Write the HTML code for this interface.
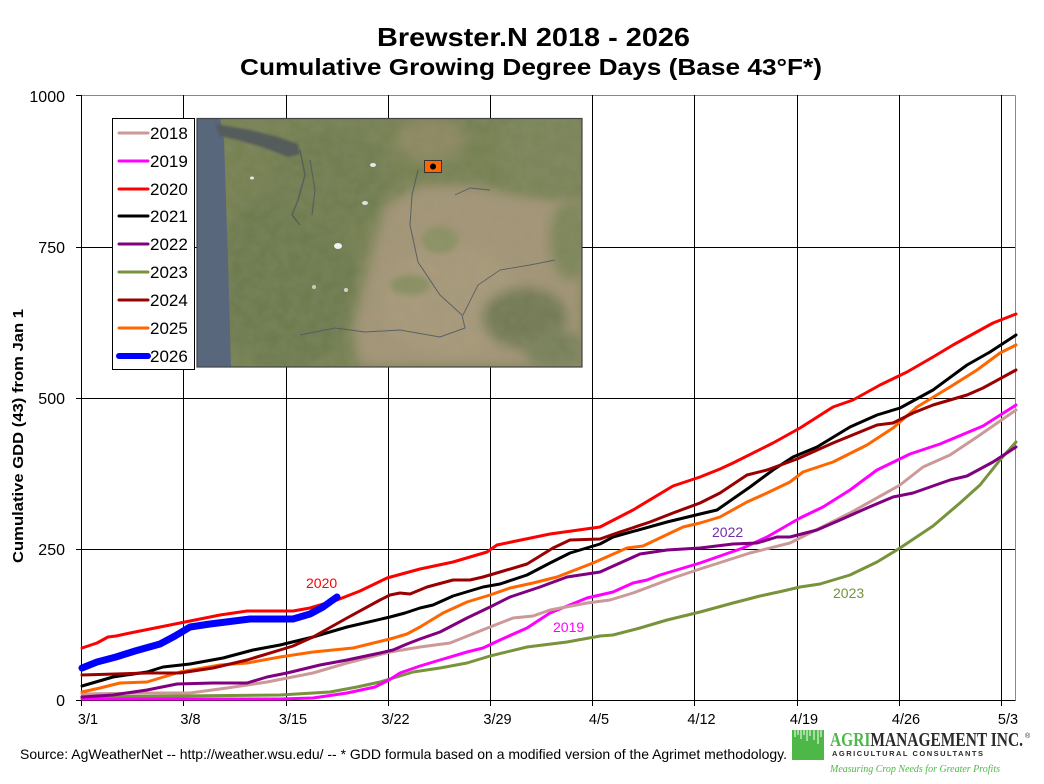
<!DOCTYPE html>
<html>
<head>
<meta charset="utf-8">
<style>
  html, body { margin:0; padding:0; background:#fff; }
  svg { display:block; }
</style>
</head>
<body>
<svg width="1044" height="784" viewBox="0 0 1044 784" xmlns="http://www.w3.org/2000/svg" font-family="Liberation Sans, Arial, sans-serif">
  <defs>
    <filter id="b6" x="-20%" y="-20%" width="140%" height="140%"><feGaussianBlur stdDeviation="6"/></filter>
    <filter id="b3" x="-20%" y="-20%" width="140%" height="140%"><feGaussianBlur stdDeviation="3"/></filter>
    <filter id="b1"><feGaussianBlur stdDeviation="1.2"/></filter>
    <filter id="noise" x="0" y="0" width="100%" height="100%">
      <feTurbulence type="fractalNoise" baseFrequency="0.09" numOctaves="2" seed="3" result="n"/>
      <feColorMatrix in="n" type="matrix" values="0 0 0 0 0.3  0 0 0 0 0.3  0 0 0 0 0.2  0 0 0 0.35 0"/>
    </filter>
    <clipPath id="mapclip"><rect x="197" y="118" width="385" height="249"/></clipPath>
  </defs>
  <rect width="1044" height="784" fill="#fff"/>

  <!-- Titles -->
  <text x="377" y="46" font-size="26" font-weight="bold" textLength="313" lengthAdjust="spacingAndGlyphs">Brewster.N  2018 - 2026</text>
  <text x="240" y="75" font-size="23" font-weight="bold" textLength="582" lengthAdjust="spacingAndGlyphs">Cumulative Growing Degree Days (Base 43°F*)</text>

  <!-- Plot borders (gray top/right) -->
  <line x1="81.5" y1="95.5" x2="1015.5" y2="95.5" stroke="#888" stroke-width="1"/>
  <line x1="1015.5" y1="95.5" x2="1015.5" y2="700.5" stroke="#888" stroke-width="1"/>

  <!-- Horizontal gridlines + ticks -->
  <g stroke="#000" stroke-width="1">
    <line x1="76" y1="95.5" x2="82" y2="95.5"/>
    <line x1="76" y1="247.5" x2="1015" y2="247.5"/>
    <line x1="76" y1="398.5" x2="1015" y2="398.5"/>
    <line x1="76" y1="549.5" x2="1015" y2="549.5"/>
    <line x1="76" y1="700.5" x2="1015.5" y2="700.5"/>
  </g>
  <!-- Vertical gridlines + ticks -->
  <g stroke="#000" stroke-width="1">
    <line x1="81.5" y1="95" x2="81.5" y2="706"/>
    <line x1="183.5" y1="95" x2="183.5" y2="706"/>
    <line x1="286.5" y1="95" x2="286.5" y2="706"/>
    <line x1="388.5" y1="95" x2="388.5" y2="706"/>
    <line x1="490.5" y1="95" x2="490.5" y2="706"/>
    <line x1="592.5" y1="95" x2="592.5" y2="706"/>
    <line x1="694.5" y1="95" x2="694.5" y2="706"/>
    <line x1="797.5" y1="95" x2="797.5" y2="706"/>
    <line x1="899.5" y1="95" x2="899.5" y2="706"/>
    <line x1="1001.5" y1="95" x2="1001.5" y2="706"/>
  </g>

  <!-- Y tick labels -->
  <g font-size="16" text-anchor="end" fill="#000">
    <text x="65" y="102">1000</text>
    <text x="65" y="253">750</text>
    <text x="65" y="404">500</text>
    <text x="65" y="555">250</text>
    <text x="65" y="706">0</text>
  </g>
  <!-- X tick labels -->
  <g font-size="14.5" text-anchor="middle" fill="#000">
    <text x="88" y="724">3/1</text>
    <text x="190.5" y="724">3/8</text>
    <text x="293" y="724">3/15</text>
    <text x="395.5" y="724">3/22</text>
    <text x="497.5" y="724">3/29</text>
    <text x="599" y="724">4/5</text>
    <text x="701.5" y="724">4/12</text>
    <text x="804" y="724">4/19</text>
    <text x="906" y="724">4/26</text>
    <text x="1008" y="724">5/3</text>
  </g>

  <!-- Y axis title -->
  <text transform="translate(23,436) rotate(-90)" font-size="15" font-weight="bold" text-anchor="middle" textLength="254" lengthAdjust="spacingAndGlyphs">Cumulative GDD (43) from Jan 1</text>

  <!-- Series -->
  <g fill="none" stroke-width="3" stroke-linejoin="round" stroke-linecap="round">
    <!-- 2023 -->
    <polyline stroke="#77933c" points="82,697 280,695 330,692 357,687 380,682 400,676 413,672 440,668 467,663 490,656 527,647 567,642 600,636 613,635 640,628 667,620 700,612 733,603 760,596 783,591 800,587 820,584 850,575 877,562 900,548 933,526 960,503 980,485 1000,460 1016,442"/>
    <!-- 2019 -->
    <polyline stroke="#ff00ff" points="82,699 280,699 313,698 347,693 375,687 389,680 400,673 420,666 440,660 467,652 483,648 500,640 527,628 550,613 587,598 613,592 633,583 647,580 660,575 700,563 743,548 767,537 800,518 823,507 850,490 877,470 910,454 940,444 983,426 1016,405"/>
    <!-- 2018 -->
    <polyline stroke="#cc9999" points="82,694 147,693 190,693 227,688 267,682 313,673 347,663 390,652 420,647 450,643 490,627 513,618 533,616 550,610 587,603 610,600 633,593 673,578 700,569 750,553 790,543 810,533 850,513 900,485 923,467 950,455 977,437 1016,410"/>
    <!-- 2022 -->
    <polyline stroke="#800080" points="82,697 113,695 147,690 177,684 213,683 247,683 267,677 287,673 320,665 347,660 380,653 393,650 407,644 420,639 440,632 467,618 490,607 510,597 540,587 567,577 600,572 640,554 667,550 700,548 733,544 757,543 777,537 790,537 817,530 840,520 867,508 893,497 913,493 950,480 967,476 993,462 1016,447"/>
    <!-- 2025 -->
    <polyline stroke="#ff6600" points="82,692 100,688 120,683 147,682 180,672 220,665 247,663 280,657 313,652 353,648 390,639 407,634 420,627 443,613 467,602 490,595 510,588 533,583 557,577 593,563 627,548 643,546 683,527 700,523 720,517 747,502 767,493 790,482 803,472 833,462 867,445 893,428 917,407 950,387 977,370 1000,353 1016,345"/>
    <!-- 2021 -->
    <polyline stroke="#000000" points="82,686 113,677 147,672 163,667 190,664 223,658 253,650 280,645 313,637 347,627 390,617 405,613 420,608 433,605 453,596 483,587 500,584 527,575 550,563 570,553 600,544 613,537 667,522 700,514 717,510 750,487 773,470 793,457 817,447 850,427 877,415 900,408 933,390 967,365 990,352 1016,335"/>
    <!-- 2024 -->
    <polyline stroke="#990000" points="82,675 147,673 180,673 213,668 247,660 280,650 293,646 313,637 347,618 380,600 390,595 400,593 410,594 427,587 453,580 470,580 483,577 500,572 527,564 553,548 570,540 600,539 617,533 650,522 673,513 700,503 720,493 747,475 767,470 797,459 833,443 877,425 893,423 913,413 933,405 967,395 983,388 1016,370"/>
    <!-- 2020 -->
    <polyline stroke="#ff0000" points="82,648 97,643 108,637 116,636 130,633 160,627 180,623 200,619 220,615 247,611 293,611 310,608 337,600 360,591 387,578 420,569 453,562 487,552 497,545 550,534 600,527 633,510 673,486 700,477 720,469 733,463 773,443 800,428 833,407 853,400 880,385 907,372 933,357 953,345 993,323 1016,314"/>
    <!-- 2026 -->
    <polyline stroke="#0000ff" stroke-width="7" points="82,668 97,662 116,657 135,651 160,644 175,636 190,627 210,624 250,619 293,619 310,614 323,607 337,597"/>
  </g>

  <!-- Series labels -->
  <g font-size="14">
    <text x="306" y="588" fill="#ff0000">2020</text>
    <text x="553" y="632" fill="#ff00ff">2019</text>
    <text x="712" y="537" fill="#7030a0">2022</text>
    <text x="833" y="598" fill="#77933c">2023</text>
  </g>

  <!-- Map -->
  <g clip-path="url(#mapclip)">
    <rect x="197" y="118" width="385" height="249" fill="#74804f"/>
    <!-- west darker green -->
    <ellipse cx="285" cy="280" rx="70" ry="90" fill="#6b794b" filter="url(#b6)"/>
    <ellipse cx="330" cy="180" rx="60" ry="50" fill="#6e7b4d" filter="url(#b6)"/>
    <!-- tan basin -->
    <polygon points="385,205 420,185 470,185 520,195 582,200 582,367 360,367 352,330 362,290 372,250" fill="#a69678" filter="url(#b6)"/>
    <ellipse cx="450" cy="300" rx="70" ry="55" fill="#ab9b7c" filter="url(#b6)"/>
    <ellipse cx="430" cy="140" rx="35" ry="22" fill="#8d8961" filter="url(#b6)"/>
    <!-- irrigated greens in basin -->
    <ellipse cx="440" cy="240" rx="18" ry="14" fill="#8c9264" filter="url(#b3)"/>
    <ellipse cx="410" cy="285" rx="20" ry="10" fill="#899060" filter="url(#b3)"/>
    <!-- NE green -->
    <ellipse cx="548" cy="150" rx="50" ry="45" fill="#798457" filter="url(#b6)"/>
    <ellipse cx="570" cy="240" rx="20" ry="40" fill="#7b8557" filter="url(#b6)"/>
    <!-- SE mountains -->
    <ellipse cx="525" cy="318" rx="42" ry="30" fill="#6f7851" filter="url(#b6)"/>
    <ellipse cx="555" cy="350" rx="30" ry="20" fill="#767f59" filter="url(#b6)"/>
    <!-- texture -->
    <rect x="197" y="118" width="385" height="249" filter="url(#noise)"/>
    <!-- ocean -->
    <polygon points="197,118 220,118 224,140 226,200 228,260 231,367 197,367" fill="#58677c"/>
    <!-- strait -->
    <polygon points="215,124 250,130 278,137 298,144 300,154 288,157 262,147 238,140 220,136" fill="#555c5c" filter="url(#b1)"/>
    <!-- Puget sound -->
    <path d="M300,150 L305,175 L298,200 L292,215 L300,225" stroke="#4f5a5a" stroke-width="1.5" fill="none" opacity="0.8"/>
    <path d="M310,160 L315,190 L312,215" stroke="#4f5a5a" stroke-width="1.2" fill="none" opacity="0.8"/>
    <!-- rivers -->
    <path d="M418,170 L412,195 L410,225 L418,262 L440,295 L462,315 L465,328 L440,337 L400,330 L365,332 L335,328 L300,335" stroke="#4d5760" stroke-width="1" fill="none" opacity="0.85"/>
    <path d="M463,315 L478,285 L500,270 L530,265 L555,260" stroke="#4d5760" stroke-width="0.9" fill="none" opacity="0.85"/>
    <path d="M455,195 L470,188 L490,190" stroke="#4d5760" stroke-width="0.9" fill="none" opacity="0.85"/>
    <!-- snow caps -->
    <ellipse cx="338" cy="246" rx="4" ry="3" fill="#f2f2f2"/>
    <ellipse cx="373" cy="165" rx="3" ry="2" fill="#e8e8e8"/>
    <ellipse cx="365" cy="203" rx="3" ry="2" fill="#e0e0e0"/>
    <ellipse cx="252" cy="178" rx="2" ry="1.5" fill="#e6e6e6"/>
    <ellipse cx="346" cy="290" rx="2" ry="2" fill="#d8d0c8"/>
    <ellipse cx="314" cy="287" rx="2" ry="2" fill="#d0c8c0"/>
  </g>
  <rect x="197" y="118.5" width="385" height="248.5" fill="none" stroke="#444" stroke-width="1.2"/>
  <!-- map marker -->
  <rect x="424.5" y="160.5" width="17" height="12" fill="#ff6600" stroke="#333" stroke-width="1"/>
  <circle cx="433" cy="166.5" r="3" fill="#000"/>

  <!-- Legend -->
  <rect x="112.5" y="118.5" width="82" height="251" fill="#fff" stroke="#000" stroke-width="1"/>
  <g stroke-width="3" stroke-linecap="round">
    <line x1="119" y1="133" x2="148" y2="133" stroke="#cc9999"/>
    <line x1="119" y1="161" x2="148" y2="161" stroke="#ff00ff"/>
    <line x1="119" y1="189" x2="148" y2="189" stroke="#ff0000"/>
    <line x1="119" y1="216" x2="148" y2="216" stroke="#000000"/>
    <line x1="119" y1="244" x2="148" y2="244" stroke="#800080"/>
    <line x1="119" y1="272" x2="148" y2="272" stroke="#77933c"/>
    <line x1="119" y1="300" x2="148" y2="300" stroke="#990000"/>
    <line x1="119" y1="328" x2="148" y2="328" stroke="#ff6600"/>
    <line x1="119" y1="356" x2="148" y2="356" stroke="#0000ff" stroke-width="6"/>
  </g>
  <g font-size="17" fill="#000">
    <text x="150" y="139">2018</text>
    <text x="150" y="167">2019</text>
    <text x="150" y="195">2020</text>
    <text x="150" y="222">2021</text>
    <text x="150" y="250">2022</text>
    <text x="150" y="278">2023</text>
    <text x="150" y="306">2024</text>
    <text x="150" y="334">2025</text>
    <text x="150" y="362">2026</text>
  </g>

  <!-- Footer -->
  <text x="20" y="759" font-size="14" fill="#000" textLength="767" lengthAdjust="spacingAndGlyphs">Source:  AgWeatherNet -- http://weather.wsu.edu/ --  * GDD formula based on a modified version of the Agrimet methodology.</text>

  <!-- Logo -->
  <rect x="792" y="730" width="32" height="30" fill="#4db848"/>
  <g stroke="#fff" stroke-width="1">
    <line x1="795" y1="730" x2="795" y2="737"/>
    <line x1="798" y1="730" x2="798" y2="735"/>
    <line x1="801" y1="730" x2="801" y2="739"/>
    <line x1="804" y1="730" x2="804" y2="735"/>
    <line x1="807" y1="730" x2="807" y2="741"/>
    <line x1="810" y1="730" x2="810" y2="736"/>
    <line x1="814" y1="730" x2="814" y2="740"/>
    <line x1="818" y1="730" x2="818" y2="744"/>
    <line x1="821" y1="730" x2="821" y2="737"/>
  </g>
  <text x="830" y="746" style="font-family:'Liberation Serif', serif; font-size:20px; font-weight:bold;" textLength="193" lengthAdjust="spacingAndGlyphs"><tspan fill="#4db848">AGRI</tspan><tspan fill="#2b2b2b">MANAGEMENT INC.</tspan></text>
  <text x="1025" y="738" font-size="7" fill="#2b2b2b">®</text>
  <text x="832" y="756" font-size="7.5" font-weight="bold" fill="#2b2b2b" textLength="151" lengthAdjust="spacing">AGRICULTURAL CONSULTANTS</text>
  <text x="830" y="772" style="font-family:'Liberation Serif', serif; font-size:11px; font-style:italic;" fill="#4db848" textLength="170" lengthAdjust="spacingAndGlyphs">Measuring Crop Needs for Greater Profits</text>
</svg>
</body>
</html>
